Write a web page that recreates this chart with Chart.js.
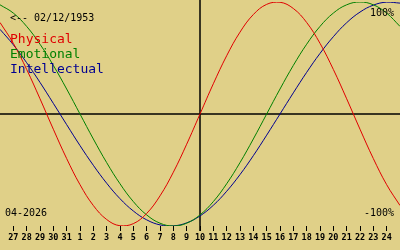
<!DOCTYPE html>
<html>
<head>
<meta charset="utf-8">
<script src="https://cdn.jsdelivr.net/npm/chart.js@4/dist/chart.umd.min.js"></script>
<style>
html,body{margin:0;padding:0;background:#e0d088;}
canvas{display:block;}
</style>
</head>
<body>
<canvas id="c" width="400" height="250"></canvas>
<script>
// Day offsets from the marked day (10 April), one per day
const dayOffsets = [-15,-14,-13,-12,-11,-10,-9,-8,-7,-6,-5,-4,-3,-2,-1,0,1,2,3,4,5,6,7,8,9,10,11,12,13,14,15];
// Tick labels for offsets -14 .. 14
const tickOffsets = [-14,-13,-12,-11,-10,-9,-8,-7,-6,-5,-4,-3,-2,-1,0,1,2,3,4,5,6,7,8,9,10,11,12,13,14];
const tickLabels = ['27','28','29','30','31','1','2','3','4','5','6','7','8','9','10','11','12','13','14','15','16','17','18','19','20','21','22','23','24'];
// Cycle values (-1 .. 1)
const physical = [0.817,0.631,0.398,0.136,-0.136,-0.398,-0.631,-0.817,-0.942,-0.998,-0.979,-0.888,-0.731,-0.520,-0.270,0,0.270,0.520,0.731,0.888,0.979,0.998,0.942,0.817,0.631,0.398,0.136,-0.136,-0.398,-0.631,-0.817];
const emotional = [0.975,0.901,0.782,0.623,0.434,0.223,0,-0.223,-0.434,-0.623,-0.782,-0.901,-0.975,-1,-0.975,-0.901,-0.782,-0.623,-0.434,-0.223,0,0.223,0.434,0.623,0.782,0.901,0.975,1,0.975,0.901,0.782];
const intellectual = [0.756,0.618,0.458,0.282,0.095,-0.095,-0.282,-0.458,-0.618,-0.756,-0.866,-0.945,-0.990,-0.999,-0.972,-0.910,-0.815,-0.690,-0.541,-0.372,-0.189,0,0.189,0.372,0.541,0.690,0.815,0.910,0.972,0.999,0.990];
const seriesNames = ['Physical','Emotional','Intellectual'];
const birthText = '<-- 02/12/1953';
const monthText = '04-2026';
const topText = '100%';
const bottomText = '-100%';

const BG = '#e0d088';
const COLORS = ['#e00000','#008000','#000090'];
const MONO = '"DejaVu Sans Mono", monospace';

function pts(vals){ return dayOffsets.map((x,i)=>({x:x,y:vals[i]})); }

const decor = {
  id:'decor',
  beforeDraw(chart){
    const c = chart.ctx;
    c.save(); c.fillStyle = BG; c.fillRect(0,0,chart.width,chart.height); c.restore();
  },
  beforeDatasetsDraw(chart){
    const c = chart.ctx, xs = chart.scales.x, ys = chart.scales.y, a = chart.chartArea;
    c.save();
    c.strokeStyle = '#000'; c.lineWidth = 1.5;
    const x0 = Math.round(xs.getPixelForValue(0));
    const y0 = Math.round(ys.getPixelForValue(0));
    c.beginPath(); c.moveTo(x0, 0); c.lineTo(x0, a.bottom + 5); c.stroke();
    c.beginPath(); c.moveTo(0, y0); c.lineTo(chart.width, y0); c.stroke();
    c.restore();
  },
  afterDatasetsDraw(chart){
    const c = chart.ctx;
    c.save();
    c.textBaseline = 'alphabetic';
    c.font = '10px ' + MONO; c.fillStyle = '#000'; c.textAlign = 'left';
    c.fillText(birthText, 10, 20.5);
    c.fillText(monthText, 5, 216);
    c.textAlign = 'right';
    c.fillText(topText, 394, 16);
    c.fillText(bottomText, 394, 216);
    c.textAlign = 'left';
    c.font = '13px ' + MONO;
    seriesNames.forEach((n,i)=>{ c.fillStyle = COLORS[i]; c.fillText(n, 10, 43 + i*15); });
    c.restore();
  }
};

new Chart(document.getElementById('c'), {
  type:'line',
  data:{
    datasets:[physical,emotional,intellectual].map((v,i)=>({
      label: seriesNames[i], data: pts(v), borderColor: COLORS[i], borderWidth: 1,
      pointRadius: 0, tension: 0.4, fill: false
    }))
  },
  options:{
    responsive:false, animation:false, devicePixelRatio:1,
    layout:{padding:{top:2,left:0,right:0,bottom:0}},
    plugins:{legend:{display:false}, tooltip:{enabled:false}},
    scales:{
      x:{
        type:'linear', min:-15, max:15,
        border:{display:false},
        grid:{display:true, drawOnChartArea:false, drawTicks:true, tickLength:5, color:'#000', lineWidth:1},
        afterBuildTicks(s){ s.ticks = tickOffsets.map(v=>({value:v})); },
        afterFit(s){ s.height = 24; },
        ticks:{
          autoSkip:false, maxRotation:0, padding:2, color:'#000',
          font:{family:MONO, size:8.5, weight:'bold'},
          callback(v){ const i = tickOffsets.indexOf(v); return i>=0 ? tickLabels[i] : ''; }
        }
      },
      y:{display:false, min:-1, max:1}
    }
  },
  plugins:[decor]
});
</script>
</body>
</html>
